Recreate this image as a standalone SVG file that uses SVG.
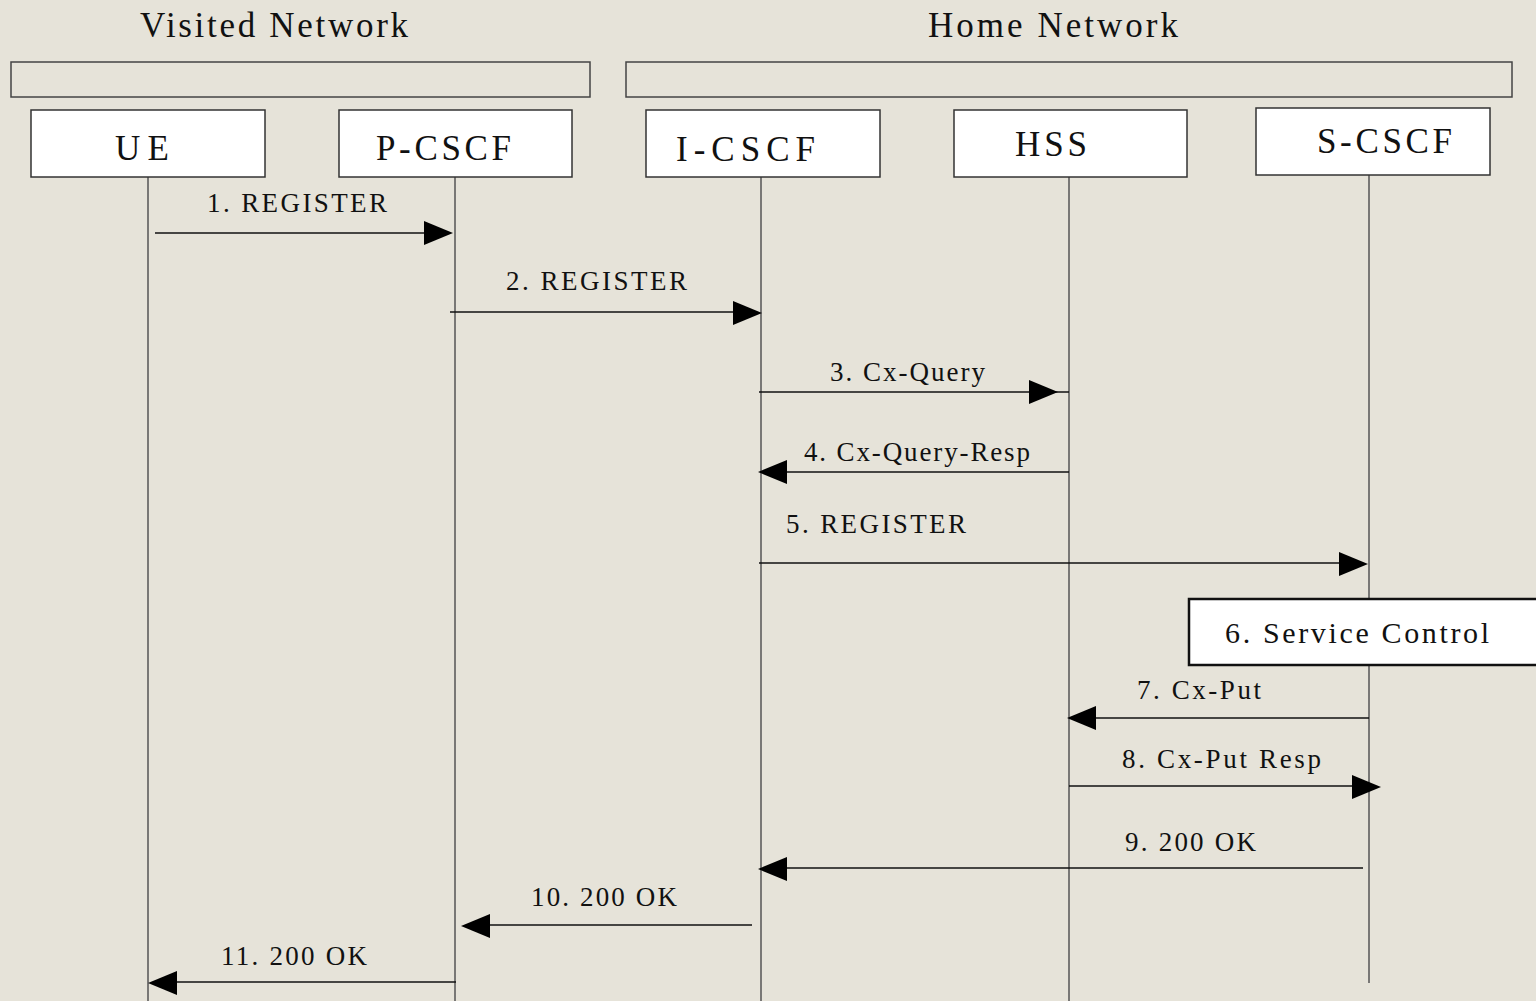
<svg xmlns="http://www.w3.org/2000/svg" xmlns:xlink="http://www.w3.org/1999/xlink" width="1536" height="1001" viewBox="0 0 1536 1001">
<style>
.bg{fill:#E6E3D9}
.grp{fill:none;stroke:#444;stroke-width:1.5}
.box{fill:#fff;stroke:#333;stroke-width:1.5}
.life{stroke:#555;stroke-width:1.5;fill:none}
.msg{stroke:#111;stroke-width:1.5;fill:none}
.t{font-family:"Liberation Serif","Times New Roman",serif;fill:#111}
.title{font-size:35px}
.node{font-size:35px}
.lbl{font-size:27px}
.ctl{fill:#fff;stroke:#111;stroke-width:2.5}
</style>
<defs>
<polygon id="ah" points="0,0 -29,-12 -29,12" fill="#000"/>
</defs>
<rect class="bg" x="0" y="0" width="1536" height="1001"/>
<g id="visited-network">
<rect class="grp" x="11" y="62" width="579" height="35"/>
<text class="t title" x="140" y="37" textLength="268" lengthAdjust="spacing">Visited Network</text>
</g>
<g id="home-network">
<rect class="grp" x="626" y="62" width="886" height="35"/>
<text class="t title" x="928" y="37" textLength="250" lengthAdjust="spacing">Home Network</text>
</g>
<g id="lifelines">
<line class="life" x1="148" y1="177" x2="148" y2="1001"/>
<line class="life" x1="455" y1="177" x2="455" y2="1001"/>
<line class="life" x1="761" y1="177" x2="761" y2="1001"/>
<line class="life" x1="1069" y1="177" x2="1069" y2="1001"/>
<line class="life" x1="1369" y1="175" x2="1369" y2="983"/>
</g>
<g id="ue">
<rect class="box" x="31" y="110" width="234" height="67"/>
<text class="t node" x="115" y="160" textLength="54" lengthAdjust="spacing">UE</text>
</g>
<g id="p-cscf">
<rect class="box" x="339" y="110" width="233" height="67"/>
<text class="t node" x="376" y="160" textLength="135" lengthAdjust="spacing">P-CSCF</text>
</g>
<g id="i-cscf">
<rect class="box" x="646" y="110" width="234" height="67"/>
<text class="t node" x="676" y="161" textLength="139" lengthAdjust="spacing">I-CSCF</text>
</g>
<g id="hss">
<rect class="box" x="954" y="110" width="233" height="67"/>
<text class="t node" x="1015" y="156" textLength="72" lengthAdjust="spacing">HSS</text>
</g>
<g id="s-cscf">
<rect class="box" x="1256" y="108" width="234" height="67"/>
<text class="t node" x="1317" y="153" textLength="135" lengthAdjust="spacing">S-CSCF</text>
</g>
<g id="service-control">
<rect class="ctl" x="1189" y="599" width="360" height="66"/>
<text class="t" font-size="30" x="1225" y="643" textLength="264" lengthAdjust="spacing">6. Service Control</text>
</g>
<g id="connectors">
<line class="msg" x1="155" y1="233" x2="430" y2="233"/>
<use xlink:href="#ah" transform="translate(453,233)"/>
<text class="t lbl" x="207" y="212" textLength="180" lengthAdjust="spacing">1. REGISTER</text>

<line class="msg" x1="450" y1="312" x2="740" y2="312"/>
<use xlink:href="#ah" transform="translate(762,313)"/>
<text class="t lbl" x="506" y="290" textLength="181" lengthAdjust="spacing">2. REGISTER</text>

<line class="msg" x1="759" y1="392" x2="1069" y2="392"/>
<use xlink:href="#ah" transform="translate(1058,392)"/>
<text class="t lbl" x="830" y="381" textLength="155" lengthAdjust="spacing">3. Cx-Query</text>

<line class="msg" x1="1069" y1="472" x2="780" y2="472"/>
<use xlink:href="#ah" transform="translate(758,472) scale(-1,1)"/>
<text class="t lbl" x="804" y="461" textLength="226" lengthAdjust="spacing">4. Cx-Query-Resp</text>

<line class="msg" x1="759" y1="563" x2="1345" y2="563"/>
<use xlink:href="#ah" transform="translate(1368,564)"/>
<text class="t lbl" x="786" y="533" textLength="180" lengthAdjust="spacing">5. REGISTER</text>

<line class="msg" x1="1369" y1="718" x2="1090" y2="718"/>
<use xlink:href="#ah" transform="translate(1067,718) scale(-1,1)"/>
<text class="t lbl" x="1137" y="699" textLength="124" lengthAdjust="spacing">7. Cx-Put</text>

<line class="msg" x1="1069" y1="786" x2="1358" y2="786"/>
<use xlink:href="#ah" transform="translate(1381,787)"/>
<text class="t lbl" x="1122" y="768" textLength="199" lengthAdjust="spacing">8. Cx-Put Resp</text>

<line class="msg" x1="1363" y1="868" x2="780" y2="868"/>
<use xlink:href="#ah" transform="translate(758,869) scale(-1,1)"/>
<text class="t lbl" x="1125" y="851" textLength="131" lengthAdjust="spacing">9. 200 OK</text>

<line class="msg" x1="752" y1="925" x2="484" y2="925"/>
<use xlink:href="#ah" transform="translate(461,926) scale(-1,1)"/>
<text class="t lbl" x="531" y="906" textLength="146" lengthAdjust="spacing">10. 200 OK</text>

<line class="msg" x1="456" y1="982" x2="170" y2="982"/>
<use xlink:href="#ah" transform="translate(148,983) scale(-1,1)"/>
<text class="t lbl" x="221" y="965" textLength="146" lengthAdjust="spacing">11. 200 OK</text>
</g>
</svg>
